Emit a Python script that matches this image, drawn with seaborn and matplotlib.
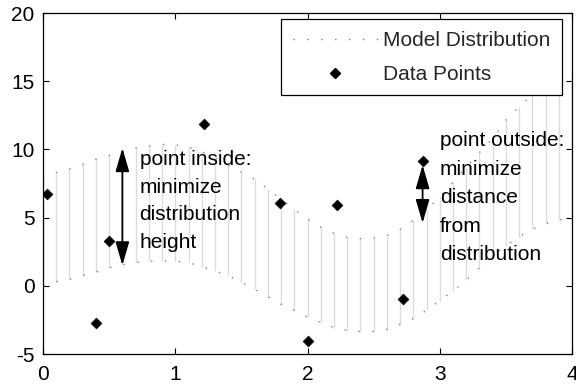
import matplotlib
matplotlib.use("Agg")
import matplotlib.pyplot as plt
import seaborn as sns
import pandas as pd
from matplotlib.lines import Line2D

# ---- data ----
x_grid = [0.0, 0.1, 0.2, 0.3, 0.4, 0.5, 0.6, 0.7, 0.8, 0.9, 1.0,
          1.1, 1.2, 1.3, 1.4, 1.5, 1.6, 1.7, 1.8, 1.9, 2.0,
          2.1, 2.2, 2.3, 2.4, 2.5, 2.6, 2.7, 2.8, 2.9, 3.0,
          3.1, 3.2, 3.3, 3.4, 3.5, 3.6, 3.7, 3.8, 3.9, 4.0]
upper = [7.9, 8.3, 8.57, 8.9, 9.28, 9.55, 9.85, 10.1, 10.24, 10.37, 10.33,
         10.18, 9.85, 9.38, 8.85, 8.35, 7.8, 7.1, 6.35, 5.6, 4.9,
         4.3, 3.85, 3.55, 3.45, 3.5, 3.68, 4.15, 4.8, 5.6, 6.5,
         7.6, 8.7, 9.77, 10.8, 12.15, 13.1, 14.0, 14.7, 15.2, 15.5]
lower = [0.0, 0.3, 0.47, 0.75, 1.0, 1.33, 1.55, 1.71, 1.8, 1.83, 1.8,
         1.71, 1.39, 1.1, 0.75, 0.25, -0.25, -0.8, -1.35, -1.8, -2.3,
         -2.7, -3.07, -3.28, -3.35, -3.35, -3.2, -2.82, -2.4, -1.8, -1.1,
         -0.37, 0.4, 1.3, 2.15, 2.95, 3.6, 4.15, 4.55, 4.85, 4.9]

point_x = [0.03, 0.40, 0.50, 1.22, 1.79, 2.00, 2.22, 2.72, 2.87]
point_y = [6.7, -2.75, 3.3, 11.85, 6.1, -4.05, 5.95, -0.95, 9.15]

arrow_x = [0.6, 2.87]
arrow_lo = [1.5, 4.6]
arrow_hi = [10.1, 8.85]

note_x = [0.73, 3.0]
note_y = [9.95, 11.35]
note_spacing = [1.57, 1.64]
note_text = ["point inside:\nminimize\ndistribution\nheight",
             "point outside:\nminimize\ndistance\nfrom\ndistribution"]

legend_labels = ["Model Distribution", "Data Points"]
x_ticks = [0, 1, 2, 3, 4]
y_ticks = [-5, 0, 5, 10, 15, 20]

# ---- style ----
sns.set_theme(style="white")
plt.rcParams["font.family"] = ["Liberation Sans", "DejaVu Sans"]
FS = 15

curve_df = pd.DataFrame({"x": x_grid, "upper": upper, "lower": lower})
pts_df = pd.DataFrame({"x": point_x, "y": point_y})

fig = plt.figure(figsize=(5.76, 3.91), dpi=100)
ax = fig.add_axes([0.0747, 0.0946, 0.9184, 0.8721])

dot_style = (0, (1, 9))
dot_color = "#808080"

# vertical hatch lines between the two curves
ax.vlines(curve_df["x"], curve_df["lower"], curve_df["upper"],
          colors="#dcdcdc", linewidth=1.0, zorder=1)

sns.lineplot(data=curve_df, x="x", y="upper", ax=ax, color=dot_color,
             linestyle=dot_style, linewidth=1.0, zorder=2, legend=False)
sns.lineplot(data=curve_df, x="x", y="lower", ax=ax, color=dot_color,
             linestyle=dot_style, linewidth=1.0, zorder=2, legend=False)

sns.scatterplot(data=pts_df, x="x", y="y", ax=ax, marker="D", s=30,
                color="black", edgecolor="black", linewidth=0.5,
                zorder=4, legend=False)

for xa, y0, y1 in zip(arrow_x, arrow_lo, arrow_hi):
    ax.annotate("", xy=(xa, y1), xytext=(xa, y0),
                arrowprops=dict(arrowstyle="<|-|>,head_length=1.2,head_width=0.35",
                                color="black", lw=1.3, shrinkA=0, shrinkB=0),
                zorder=5)

for tx, ty, tt, ls in zip(note_x, note_y, note_text, note_spacing):
    ax.text(tx, ty, tt, fontsize=FS, va="top", ha="left", color="black",
            linespacing=ls, zorder=6)

ax.set_xlim(0, 4)
ax.set_ylim(-5, 20)
ax.set_xticks(x_ticks)
ax.set_yticks(y_ticks)
ax.set_xticklabels([str(v) for v in x_ticks])
ax.set_yticklabels([str(v) for v in y_ticks])
ax.set_xlabel("")
ax.set_ylabel("")
ax.tick_params(direction="in", top=True, right=True, bottom=True, left=True,
               length=4, width=0.8, colors="black", labelsize=FS)
ax.tick_params(axis="x", pad=8)
ax.tick_params(axis="y", pad=6)
for sp in ax.spines.values():
    sp.set_color("black")
    sp.set_linewidth(0.9)
    sp.set_zorder(7)

handles = [
    Line2D([0], [0], color=dot_color, linestyle=dot_style, linewidth=1.0),
    Line2D([0], [0], color="black", marker="D", linestyle="none",
           markersize=5.4),
]
leg = ax.legend(handles, legend_labels, loc="upper right",
                bbox_to_anchor=(0.981, 0.981), borderaxespad=0,
                fontsize=FS, frameon=True, fancybox=False, framealpha=1,
                edgecolor="black", handlelength=4.1, handletextpad=0.24,
                labelspacing=0.72, borderpad=0.55)
leg.get_frame().set_linewidth(0.9)
leg.set_zorder(8)

fig.savefig("out.png", dpi=100)
